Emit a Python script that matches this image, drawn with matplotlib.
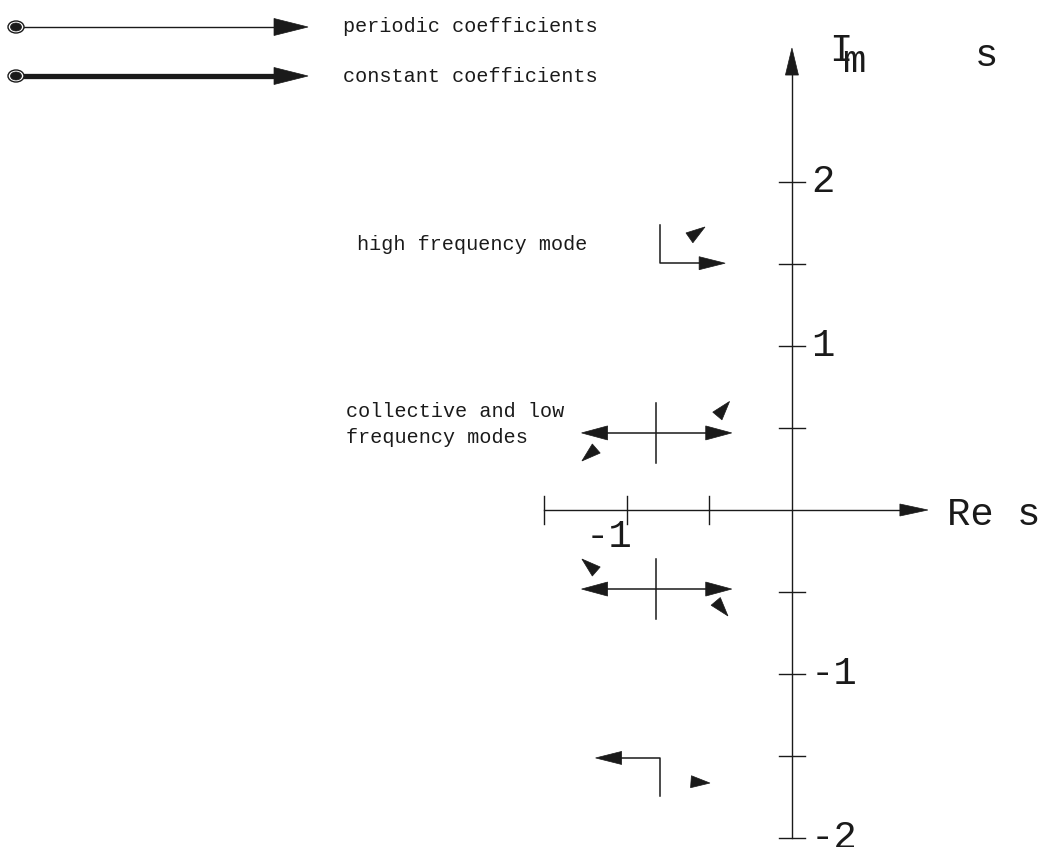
import matplotlib
matplotlib.use("Agg")
import matplotlib.pyplot as plt
from matplotlib.patches import Polygon, Ellipse
import numpy as np

FONT = "Liberation Mono"

# ---- s-plane frame ----
re_range = (-4.80, 1.552)
im_range = (-2.055, 3.110)
im_ticks = [-2, -1.5, -1, -0.5, 0.5, 1, 1.5, 2]
im_ticklabels = {2: "2", 1: "1", -1: "-1", -2: "-2"}
re_ticks = [-1.5, -1, -0.5]
re_ticklabels = {-1: "-1"}
re_axis_end = 0.824
im_axis_end = 2.817

# ---- root locus branches (Re, Im) ----
hf_upper_re = [-0.80, -0.80, -0.405]
hf_upper_im = [1.74, 1.505, 1.505]
hf_lower_re = [-0.80, -0.80, -1.19]
hf_lower_im = [-1.745, -1.512, -1.512]

cl_root_re = -0.825
cl_root_im = [0.470, -0.482]
cl_left_re = -1.275
cl_right_re = -0.365
cl_cross_half = 0.183

# direction of travel for the periodic-coefficient roots
dir_re = [-0.527, -0.378, -1.273, -1.273, -0.388, -0.497]
dir_im = [1.726, 0.662, 0.299, -0.299, -0.646, -1.665]
dir_angle = [35, 50, 221, 139, -50, -4]

legend_labels = ["periodic coefficients", "constant coefficients"]

W, H = 1048, 847
fig = plt.figure(figsize=(W / 100, H / 100), dpi=100)
ax = fig.add_axes([0, 0, 1, 1])
ax.set_xlim(*re_range)
ax.set_ylim(*im_range)
ax.axis("off")

SX = W / (re_range[1] - re_range[0])
SY = H / (im_range[1] - im_range[0])
INK = "#1a1a1a"


def head(tx, ty, ang, length, half, color=INK):
    """Filled arrowhead with its tip at (tx, ty); size given in pixels."""
    a = np.deg2rad(ang)
    ux, uy = np.cos(a), np.sin(a)
    nx, ny = -uy, ux
    pts = [(0.0, 0.0),
           (-length * ux + half * nx, -length * uy + half * ny),
           (-length * ux - half * nx, -length * uy - half * ny)]
    verts = [(tx + px / SX, ty + py / SY) for px, py in pts]
    ax.add_patch(Polygon(verts, closed=True, facecolor=color,
                         edgecolor=color, lw=0.5, zorder=5))


def frac(fx, fy):
    return (re_range[0] + fx * (re_range[1] - re_range[0]),
            im_range[0] + fy * (im_range[1] - im_range[0]))


LW = 1.1
tick_dx = 13 / SX
tick_dy = 14 / SY

# imaginary axis
ax.plot([0, 0], [min(im_ticks), im_axis_end - 20 / SY], color=INK, lw=1.0)
head(0, im_axis_end, 90, 27, 6.5)
for t in im_ticks:
    ax.plot([-tick_dx, tick_dx], [t, t], color=INK, lw=1.0)
for t, lab in im_ticklabels.items():
    ax.text(0.115, t, lab, fontsize=28, family=FONT, ha="left",
            va="center", color=INK)

# real axis
ax.plot([min(re_ticks), re_axis_end - 20 / SX], [0, 0], color=INK, lw=1.0)
head(re_axis_end, 0, 0, 28, 6)
for t in re_ticks:
    ax.plot([t, t], [-tick_dy, tick_dy], color=INK, lw=1.0)
for t, lab in re_ticklabels.items():
    ax.text(t - 0.11, -0.165, lab, fontsize=28, family=FONT, ha="center",
            va="center", color=INK)

ax.text(0.94, -0.03, "Re s", fontsize=28, family=FONT, ha="left",
        va="center", color=INK)
ax.text(0.224, 2.80, "I", fontsize=28, family=FONT, ha="left",
        va="center", color=INK)
ax.text(0.303, 2.73, "m", fontsize=28, family=FONT, ha="left",
        va="center", color=INK)
ax.text(1.109, 2.77, "s", fontsize=28, family=FONT, ha="left",
        va="center", color=INK)

# high frequency mode
ax.plot(hf_upper_re[:-1] + [hf_upper_re[-1] - 20 / SX], hf_upper_im,
        color=INK, lw=LW)
head(hf_upper_re[-1], hf_upper_im[-1], 0, 26, 6.5)
ax.plot(hf_lower_re[:-1] + [hf_lower_re[-1] + 20 / SX], hf_lower_im,
        color=INK, lw=LW)
head(hf_lower_re[-1], hf_lower_im[-1], 180, 26, 6.5)

# collective and low frequency modes
for im in cl_root_im:
    ax.plot([cl_left_re + 20 / SX, cl_right_re - 20 / SX], [im, im],
            color=INK, lw=LW)
    head(cl_left_re, im, 180, 26, 7)
    head(cl_right_re, im, 0, 26, 7)
    ax.plot([cl_root_re, cl_root_re], [im - cl_cross_half, im + cl_cross_half],
            color=INK, lw=LW)

for x, y, a in zip(dir_re, dir_im, dir_angle):
    head(x, y, a, 19, 6)

ax.text(-2.636, 1.616, "high frequency mode", fontsize=14.5, family=FONT,
        ha="left", va="center", color=INK)
ax.text(-2.703, 0.598, "collective and low", fontsize=14.5, family=FONT,
        ha="left", va="center", color=INK)
ax.text(-2.703, 0.445, "frequency modes", fontsize=14.5, family=FONT,
        ha="left", va="center", color=INK)

# legend
legend_y = [1 - 27 / H, 1 - 76 / H]
legend_lw = [1.0, 3.8]
for fy, lab, lw in zip(legend_y, legend_labels, legend_lw):
    x0, y0 = frac(16 / W, fy)
    x1, _ = frac(308 / W, fy)
    ax.plot([x0, x1 - 25 / SX], [y0, y0], color=INK, lw=lw,
            solid_capstyle="butt")
    head(x1, y0, 0, 34, 8.5)
    ax.add_patch(Ellipse((x0, y0), 16 / SX, 12 / SY, facecolor="white",
                         edgecolor=INK, lw=1.0, zorder=6))
    ax.add_patch(Ellipse((x0, y0), 11 / SX, 8 / SY, facecolor=INK,
                         edgecolor=INK, lw=0.5, zorder=7))
    tx, ty = frac(343 / W, fy)
    ax.text(tx, ty, lab, fontsize=14.5, family=FONT, ha="left",
            va="center", color=INK)

fig.savefig("out.png", dpi=100, facecolor="white")
